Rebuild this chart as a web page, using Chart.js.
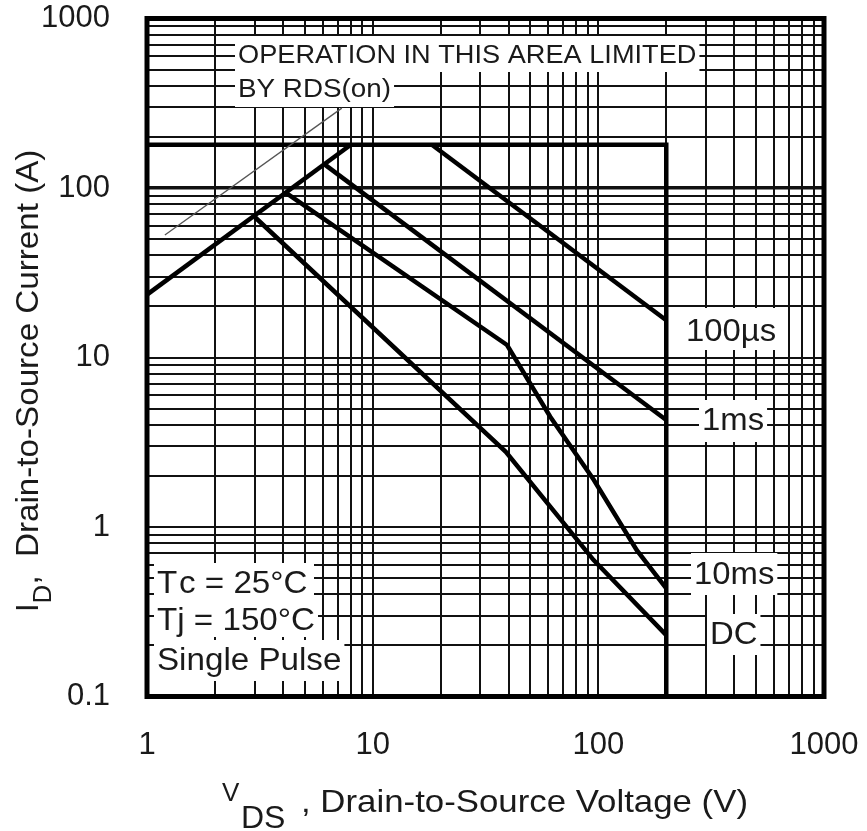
<!DOCTYPE html>
<html><head><meta charset="utf-8">
<script src="https://cdn.jsdelivr.net/npm/chart.js@4.4.1/dist/chart.umd.min.js"></script>
<style>html,body{margin:0;padding:0;background:#fff;}#wrap{width:867px;height:831px;}</style>
</head><body><div id="wrap"><canvas id="c" width="867" height="831"></canvas></div>
<script>
// ---- data ----
const xMajor = [1, 10, 100, 1000];
const yMajor = [0.1, 1, 10, 100, 1000];
const minorSteps = [2, 3, 4, 5, 6, 7, 8, 9];
const xTickLabels = ['1', '10', '100', '1000'];
const yTickLabels = ['0.1', '1', '10', '100', '1000'];

const limitV = [1, 200, 200];
const limitI = [180, 180, 0.1];
const rdsV = [1, 8];
const rdsI = [23.5, 180];
const us100V = [18.3, 200];
const us100I = [180, 16.6];
const ms1V = [6.16, 200];
const ms1I = [137, 4.28];
const ms10V = [4.16, 39.4, 61.2, 95.4, 148, 200];
const ms10I = [93, 11.85, 4.47, 1.9, 0.73, 0.435];
const dcV = [3.01, 38.9, 95.3, 200];
const dcI = [67.2, 2.78, 0.638, 0.23];
const rdsNoteV = [1.2, 7.3];
const rdsNoteI = [52.8, 296];

function buildTicks(majors) {
  const t = [];
  majors.forEach((m, i) => {
    t.push(m);
    if (i < majors.length - 1) minorSteps.forEach(s => t.push(+(m * s).toPrecision(6)));
  });
  return t;
}
const xTicks = buildTicks(xMajor);
const yTicks = buildTicks(yMajor);

function pts(xs, ys) { return xs.map((x, i) => ({ x: x, y: ys[i] })); }
function ds(xs, ys, w, color) {
  return { data: pts(xs, ys), showLine: true, borderColor: color || '#000', borderWidth: w,
    pointRadius: 0, fill: false, tension: 0, borderJoinStyle: 'miter', borderCapStyle: 'butt' };
}

const FONT = '"Liberation Sans", Arial, sans-serif';
const TXT = '#1a1a1a';

function txt(ctx, s, x, y, size, o) {
  o = o || {};
  const sx = o.sx || 1;
  ctx.save();
  ctx.font = size + 'px ' + FONT;
  ctx.textBaseline = o.baseline || 'middle';
  ctx.textAlign = 'left';
  const w = ctx.measureText(s).width * sx;
  let x0 = x;
  if (o.align === 'right') x0 = x - w; else if (o.align === 'center') x0 = x - w / 2;
  if (o.box) {
    ctx.fillStyle = '#fff';
    ctx.fillRect(x0 - 3, o.box[0], w + 6, o.box[1] - o.box[0]);
  }
  ctx.translate(x0, y);
  ctx.scale(sx, 1);
  ctx.fillStyle = TXT;
  ctx.fillText(s, 0, 0);
  ctx.restore();
  return w;
}

function zeroPad(s) { s.paddingTop = 0; s.paddingBottom = 0; s.paddingLeft = 0; s.paddingRight = 0; }

const overlay = {
  id: 'overlay',
  afterDatasetsDraw(chart) {
    const ctx = chart.ctx;
    txt(ctx, 'OPERATION IN THIS AREA LIMITED', 238, 56, 26, { sx: 1.045, box: [36, 72] });
    txt(ctx, 'BY RDS(on)', 238, 90, 26, { sx: 1.07, box: [72, 107] });
    txt(ctx, '100\u00b5s', 686, 332, 31, { sx: 1.06, box: [308, 350] });
    txt(ctx, '1ms', 702, 421, 31, { sx: 1.06, box: [400, 442] });
    txt(ctx, '10ms', 694, 575, 31, { sx: 1.06, box: [553, 595] });
    txt(ctx, 'DC', 710, 635, 31, { sx: 1.06, box: [614, 655] });
    // Tc line: white box first, then T and rest with the wider gap seen in the reference
    ctx.save();
    ctx.fillStyle = '#fff';
    ctx.fillRect(154, 563, 160, 37);
    ctx.restore();
    txt(ctx, 'T', 157, 584, 31, { sx: 1.07 });
    txt(ctx, 'c = 25\u00b0C', 179, 584, 31, { sx: 1.07 });
    txt(ctx, 'Tj = 150\u00b0C', 157, 621, 31, { sx: 1.07, box: [600, 637] });
    txt(ctx, 'Single Pulse', 157, 661, 31, { sx: 1.07, box: [640, 681] });

    const a = chart.chartArea;
    ctx.save();
    ctx.strokeStyle = '#000';
    ctx.lineWidth = 5;
    ctx.strokeRect(a.left, a.top, a.right - a.left, a.bottom - a.top);
    ctx.restore();

    txt(ctx, 'V', 222, 801, 26, { baseline: 'alphabetic' });
    txt(ctx, 'DS', 241, 828, 32, { baseline: 'alphabetic' });
    txt(ctx, ', Drain-to-Source Voltage (V)', 301, 812, 32, { sx: 1.088, baseline: 'alphabetic' });

    ctx.save();
    ctx.translate(38, 612);
    ctx.rotate(-Math.PI / 2);
    let p = 0;
    p += txt(ctx, 'I', p, 0, 31, { baseline: 'alphabetic' });
    p += txt(ctx, 'D', p, 13, 26, { baseline: 'alphabetic' });
    txt(ctx, ',  Drain-to-Source Current (A)', p, 0, 31, { sx: 1.07, baseline: 'alphabetic' });
    ctx.restore();
  }
};

new Chart(document.getElementById('c'), {
  type: 'scatter',
  data: {
    datasets: [
      ds(rdsNoteV, rdsNoteI, 1.3, '#555'),
      ds(limitV, limitI, 4.5),
      ds(rdsV, rdsI, 4.5),
      ds(us100V, us100I, 4.5),
      ds(ms1V, ms1I, 4.5),
      ds(ms10V, ms10I, 4.5),
      ds(dcV, dcI, 4.5)
    ]
  },
  options: {
    responsive: false,
    animation: false,
    devicePixelRatio: 1,
    layout: { padding: { left: 0, top: 18.5, right: 43, bottom: 0 } },
    plugins: { legend: { display: false }, tooltip: { enabled: false } },
    scales: {
      x: {
        type: 'logarithmic', position: 'bottom', min: 1, max: 1000,
        afterBuildTicks: s => { s.ticks = xTicks.map(v => ({ value: v })); },
        afterFit: s => { s.height = 134.5; zeroPad(s); },
        ticks: {
          autoSkip: false, maxRotation: 0, minRotation: 0, padding: 30, color: TXT,
          font: { family: FONT, size: 31 },
          callback: v => { const i = xMajor.indexOf(v); return i >= 0 ? xTickLabels[i] : ''; }
        },
        grid: { color: '#111', lineWidth: 2, drawTicks: false },
        border: { display: false }
      },
      y: {
        type: 'logarithmic', position: 'left', min: 0.1, max: 1000,
        afterBuildTicks: s => { s.ticks = yTicks.map(v => ({ value: v })); },
        afterFit: s => { s.width = 147; zeroPad(s); },
        ticks: {
          autoSkip: false, padding: 37, color: TXT,
          font: { family: FONT, size: 31 },
          callback: v => { const i = yMajor.indexOf(v); return i >= 0 ? yTickLabels[i] : ''; }
        },
        grid: {
          color: '#111', drawTicks: false,
          lineWidth: c => (c.tick && c.tick.value === 100 ? 3.5 : 2)
        },
        border: { display: false }
      }
    }
  },
  plugins: [overlay]
});
</script>
</body></html>
